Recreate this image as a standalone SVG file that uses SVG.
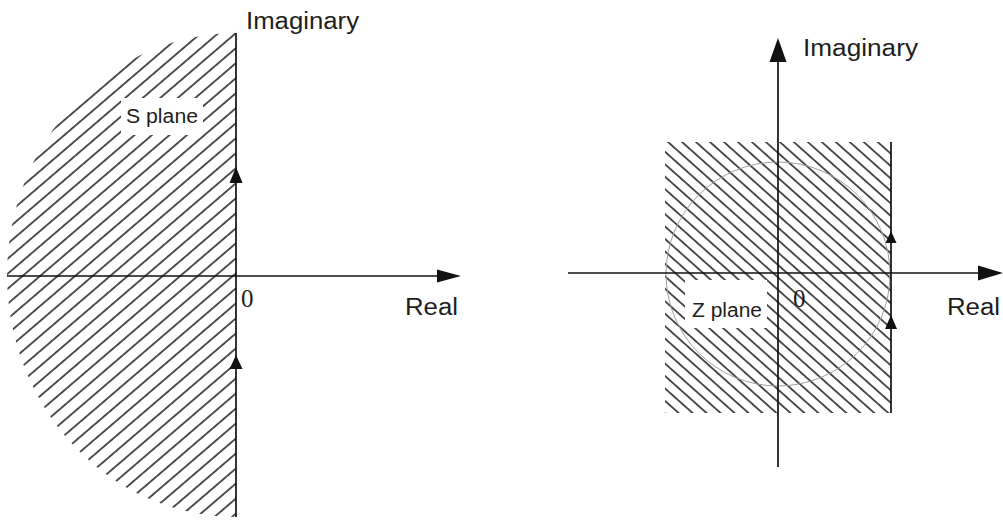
<svg xmlns="http://www.w3.org/2000/svg" width="1003" height="522" viewBox="0 0 1003 522">
  <style>
    .axis { stroke: #111; stroke-width: 1.7; fill: none; }
    .hatch { stroke: #1a1a1a; stroke-width: 1.5; }
    .arrow { fill: #111; stroke: none; }
    .lbl { font-family: "Liberation Sans", Arial, sans-serif; fill: #1e1e1e; }
    .num { font-family: "Liberation Serif", "Times New Roman", serif; fill: #1e1e1e; }
    .mask { fill: #fff; stroke: none; }
  </style>
  <defs>
    <pattern id="hatchL" patternUnits="userSpaceOnUse" width="30" height="11.4" patternTransform="translate(236,33) rotate(-40.6) translate(0,-5.7)">
      <line class="hatch" x1="-1" y1="5.7" x2="31" y2="5.7"/>
    </pattern>
    <pattern id="hatchR" patternUnits="userSpaceOnUse" width="30" height="9.3" patternTransform="translate(668,142) rotate(41.7) translate(0,-4.65)">
      <line class="hatch" x1="-1" y1="4.65" x2="31" y2="4.65"/>
    </pattern>
  </defs>
  <rect x="0" y="0" width="1003" height="522" fill="#fff"/>

  <g id="s-plane">
    <path d="M236,33 A229,242 0 0 0 236,517 Z" fill="url(#hatchL)"/>
    <rect class="mask" x="121" y="98" width="82" height="37"/>
    <text class="lbl" x="126" y="123" font-size="20" textLength="72" lengthAdjust="spacingAndGlyphs">S plane</text>
  </g>

  <g id="z-plane">
    <rect x="665" y="142" width="226" height="271" fill="url(#hatchR)"/>
    <rect class="mask" x="685" y="280" width="82" height="48"/>
    <circle cx="778" cy="274" r="112" fill="none" stroke="#a0a0a0" stroke-width="1"/>
    <text class="lbl" x="692" y="317" font-size="20" textLength="70" lengthAdjust="spacingAndGlyphs">Z plane</text>
  </g>

  <g id="connectors">
    <!-- S plane axes -->
    <line class="axis" x1="236" y1="33" x2="236" y2="517"/>
    <line class="axis" x1="7" y1="276" x2="440" y2="276"/>
    <polygon class="arrow" points="461,276 437,269.5 437,282.5"/>
    <polygon class="arrow" points="236,167 229.5,183 242.5,183"/>
    <polygon class="arrow" points="236,355 229.5,369 242.5,369"/>
    <!-- Z plane axes -->
    <line class="axis" x1="778" y1="58" x2="778" y2="467"/>
    <polygon class="arrow" points="778,38 769.5,62 786.5,62"/>
    <line class="axis" x1="568" y1="273" x2="982" y2="273"/>
    <polygon class="arrow" points="1003,273 978,265.5 978,280.5"/>
    <line class="axis" x1="891" y1="142" x2="891" y2="413"/>
    <polygon class="arrow" points="891,231 885.5,243 896.5,243"/>
    <polygon class="arrow" points="891,315 885,329 897,329"/>
  </g>

  <g id="labels">
    <text class="lbl" x="246" y="29" font-size="23" textLength="113" lengthAdjust="spacingAndGlyphs">Imaginary</text>
    <text class="lbl" x="405" y="315" font-size="23" textLength="53" lengthAdjust="spacingAndGlyphs">Real</text>
    <text class="num" x="241" y="307" font-size="25">0</text>
    <text class="lbl" x="803" y="56" font-size="23" textLength="115" lengthAdjust="spacingAndGlyphs">Imaginary</text>
    <text class="lbl" x="947" y="315" font-size="23" textLength="53" lengthAdjust="spacingAndGlyphs">Real</text>
    <text class="num" x="793" y="307" font-size="25">0</text>
  </g>
</svg>
